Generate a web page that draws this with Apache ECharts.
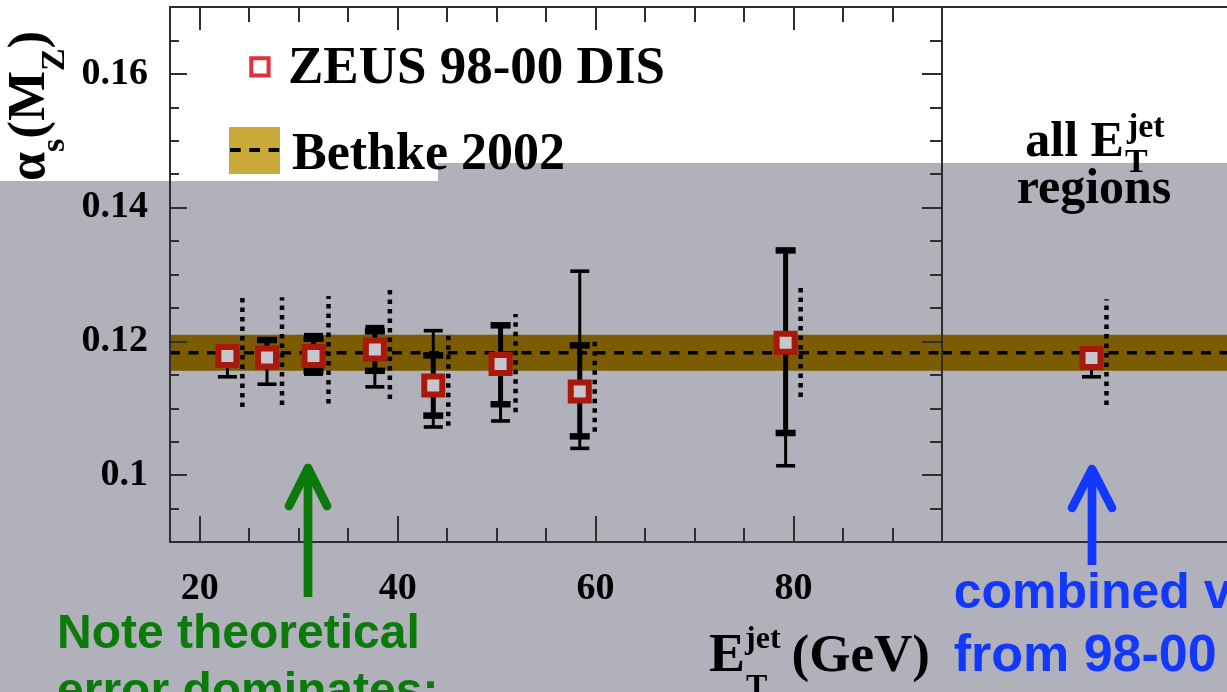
<!DOCTYPE html>
<html>
<head>
<meta charset="utf-8">
<script src="https://cdn.jsdelivr.net/npm/echarts@6/dist/echarts.min.js"></script>
<style>
  html, body { margin: 0; padding: 0; background: #fff; }
  #chart { width: 1227px; height: 692px; }
</style>
</head>
<body>
<div id="chart"></div>
<script>
// alpha_s(M_Z) extracted in bins of jet transverse energy (GeV)
const etJet   = [22.8, 26.8, 31.5, 37.7, 43.6, 50.4, 58.4, 79.2];
const alphaS  = [0.1178, 0.1176, 0.1178, 0.1188, 0.1134, 0.1166, 0.1125, 0.1198];
// inner bars: statistical uncertainty (lower / upper edge)
const statLow  = [0.1168, 0.1166, 0.1156, 0.1156, 0.1089, 0.1106, 0.1058, 0.1063];
const statHigh = [0.1188, 0.1202, 0.1204, 0.1215, 0.1179, 0.1224, 0.1194, 0.1336];
// outer bars: total experimental uncertainty
const expLow   = [0.1147, 0.1136, 0.1151, 0.1132, 0.1072, 0.1081, 0.1040, 0.1014];
const expHigh  = [0.1189, 0.1202, 0.1210, 0.1222, 0.1216, 0.1224, 0.1305, 0.1336];
// dotted bars: theoretical uncertainty
const theoLow  = [0.1102, 0.1105, 0.1107, 0.1114, 0.1074, 0.1094, 0.1065, 0.1117];
const theoHigh = [0.1268, 0.1266, 0.1268, 0.1278, 0.1210, 0.1241, 0.1201, 0.1287];

// combined value from all E_T^jet regions
const combinedPos      = [0.5];
const combinedAlphaS   = [0.1175];
const combinedStatLow  = [0.1170];
const combinedStatHigh = [0.1181];
const combinedExpLow   = [0.1147];
const combinedExpHigh  = [0.1183];
const combinedTheoLow  = [0.1105];
const combinedTheoHigh = [0.1263];

// world average band (Bethke 2002)
const bethkeCentral = 0.1183;
const bethkeError   = 0.0027;

// axis ticks
const xMajorTicks = [20, 40, 60, 80];
const xMinorTicks = [25, 30, 35, 45, 50, 55, 65, 70, 75, 85, 90];
const yMajorTicks = [0.1, 0.12, 0.14, 0.16];
const yMinorTicks = [0.095, 0.105, 0.11, 0.115, 0.125, 0.13, 0.135, 0.145, 0.15, 0.155, 0.165];

// texts
const legendZeus   = 'ZEUS 98-00 DIS';
const legendBethke = 'Bethke 2002';
const noteLines    = ['Note theoretical', 'error dominates:'];
const combinedLines = ['combined value', 'from 98-00 data'];

const SERIF = '"Liberation Serif", "Times New Roman", serif';
const SANS  = '"Liberation Sans", Arial, sans-serif';
const FRAME = '#2e2e2e';
const GRAY  = '#b0b1ba';
const BAND  = '#7b5c02';
const MARK_RED  = '#a8190c';
const MARK_FILL = '#c6c7ce';
const GREEN = '#0b7a0b';
const BLUE  = '#1238ff';

// ---- text helpers: place strings by their alphabetic baseline ----
const mctx = document.createElement('canvas').getContext('2d');
function fontOf(size, family, weight) { return weight + ' ' + size + 'px ' + family; }
function widthOf(str, size, family, weight) {
  mctx.font = fontOf(size, family || SERIF, weight || 'bold');
  return mctx.measureText(str).width;
}
function piece(str, x, baseline, size, opt) {
  opt = opt || {};
  const family = opt.family || SERIF, weight = opt.weight || 'bold';
  mctx.font = fontOf(size, family, weight);
  mctx.textBaseline = 'alphabetic';
  const m = mctx.measureText('Hg');
  const mid = (m.fontBoundingBoxAscent - m.fontBoundingBoxDescent) / 2;
  return {
    type: 'text', x: x, y: baseline - mid, z: 100, silent: true,
    style: { text: str, fontSize: size, fontFamily: family, fontWeight: weight,
             fill: opt.color || '#000', align: 'left', verticalAlign: 'middle' }
  };
}
function run(parts, x0, baseline) {
  const out = [];
  let x = x0;
  parts.forEach(function (p) {
    out.push(piece(p.t, x, baseline + (p.dy || 0), p.size, p));
    x += widthOf(p.t, p.size, p.family, p.weight) + (p.gap || 0);
  });
  return out;
}

// ---- axes ----
const tickStyle = { color: FRAME, width: 2 };
function valueAxis(cfg) {
  return {
    type: 'value', gridIndex: cfg.grid, position: cfg.position,
    min: cfg.min, max: cfg.max, z: 5, silent: true,
    splitLine: { show: false },
    axisLine: { show: !!cfg.line, onZero: false, lineStyle: { color: FRAME, width: 2 } },
    axisTick: cfg.ticks ? { show: true, inside: true, length: cfg.tickLen,
                            customValues: cfg.ticks, lineStyle: tickStyle } : { show: false },
    axisLabel: cfg.labels ? Object.assign({ show: true, customValues: cfg.labels,
                            color: '#000', fontFamily: SERIF, fontWeight: 'bold' }, cfg.labelStyle)
                          : { show: false }
  };
}

const xAxes = [
  valueAxis({ grid: 0, position: 'bottom', min: 17, max: 95, line: true, ticks: xMajorTicks, tickLen: 26,
              labels: xMajorTicks, labelStyle: { fontSize: 38, margin: 28 } }),
  valueAxis({ grid: 0, position: 'bottom', min: 17, max: 95, ticks: xMinorTicks, tickLen: 14 }),
  valueAxis({ grid: 0, position: 'top', min: 17, max: 95, line: true, ticks: xMajorTicks, tickLen: 23 }),
  valueAxis({ grid: 0, position: 'top', min: 17, max: 95, ticks: xMinorTicks, tickLen: 15 }),
  valueAxis({ grid: 1, position: 'bottom', min: 0, max: 1, line: true }),
  valueAxis({ grid: 1, position: 'top', min: 0, max: 1, line: true })
];
const yAxes = [
  valueAxis({ grid: 0, position: 'left', min: 0.09, max: 0.17, line: true, ticks: yMajorTicks, tickLen: 17,
              labels: yMajorTicks, labelStyle: { fontSize: 38, margin: 22, padding: [6, 0, 0, 0] } }),
  valueAxis({ grid: 0, position: 'left', min: 0.09, max: 0.17, ticks: yMinorTicks, tickLen: 9 }),
  valueAxis({ grid: 0, position: 'right', min: 0.09, max: 0.17, line: true, ticks: yMajorTicks, tickLen: 20 }),
  valueAxis({ grid: 0, position: 'right', min: 0.09, max: 0.17, ticks: yMinorTicks, tickLen: 12 }),
  valueAxis({ grid: 1, position: 'left', min: 0.09, max: 0.17, line: true })
];

// ---- series renderers ----
function renderBand(params, api) {
  const cs = params.coordSys;
  const x = api.value(0);
  const yLow = api.coord([x, api.value(1)])[1];
  const yHigh = api.coord([x, api.value(2)])[1];
  const yMid = api.coord([x, api.value(3)])[1];
  return {
    type: 'group',
    children: [
      { type: 'rect', shape: { x: cs.x, y: yHigh, width: cs.width, height: yLow - yHigh },
        style: { fill: BAND } },
      { type: 'line', shape: { x1: cs.x, y1: yMid, x2: cs.x + cs.width, y2: yMid },
        style: { stroke: '#000', lineWidth: 3.6, lineDash: [10, 8.5] } }
    ]
  };
}

function vbar(cx, y1, y2, lw, capW, capH) {
  const top = Math.min(y1, y2), bot = Math.max(y1, y2);
  return [
    { type: 'line', shape: { x1: cx, y1: top, x2: cx, y2: bot }, style: { stroke: '#000', lineWidth: lw } },
    { type: 'rect', shape: { x: cx - capW / 2, y: top - capH / 2, width: capW, height: capH }, style: { fill: '#000' } },
    { type: 'rect', shape: { x: cx - capW / 2, y: bot - capH / 2, width: capW, height: capH }, style: { fill: '#000' } }
  ];
}

function renderPoint(params, api) {
  const x = api.value(0);
  const c = api.coord([x, api.value(1)]);
  const y = function (i) { return api.coord([x, api.value(i)])[1]; };
  const cx = c[0];
  let children = [];
  children = children.concat(vbar(cx, y(4), y(5), 3, 19, 3.6));     // experimental
  children = children.concat(vbar(cx, y(2), y(3), 5, 20, 6.5));     // statistical
  children.push({ type: 'line', shape: { x1: cx + 15, y1: y(6), x2: cx + 15, y2: y(7) },
                  style: { stroke: '#000', lineWidth: 4.5, lineDash: [4.5, 5] } });   // theory
  children.push({ type: 'rect', shape: { x: cx - 9, y: c[1] - 9, width: 18, height: 18 },
                  style: { fill: MARK_FILL, stroke: MARK_RED, lineWidth: 6 } });
  return { type: 'group', children: children };
}

const binData = etJet.map(function (e, i) {
  return [e, alphaS[i], statLow[i], statHigh[i], expLow[i], expHigh[i], theoLow[i], theoHigh[i]];
});
const combinedData = combinedPos.map(function (p, i) {
  return [p, combinedAlphaS[i], combinedStatLow[i], combinedStatHigh[i], combinedExpLow[i],
          combinedExpHigh[i], combinedTheoLow[i], combinedTheoHigh[i]];
});
const bandData = [[0, bethkeCentral - bethkeError, bethkeCentral + bethkeError, bethkeCentral]];

// ---- overlay graphics ----
const graphics = [];
graphics.push({ type: 'polygon', z: -10, silent: true,
  shape: { points: [[0, 181], [438, 181], [438, 163], [1227, 163], [1227, 692], [0, 692]] },
  style: { fill: GRAY } });

// legend
graphics.push({ type: 'rect', z: 100, silent: true, shape: { x: 251.3, y: 58.3, width: 17.3, height: 17.3 },
  style: { fill: '#fff', stroke: '#e0303a', lineWidth: 4 } });
graphics.push(piece(legendZeus, 288, 87, 53));
graphics.push({ type: 'rect', z: 100, silent: true, shape: { x: 229, y: 127, width: 51, height: 47 },
  style: { fill: '#c9a937' } });
graphics.push({ type: 'line', z: 101, silent: true, shape: { x1: 230, y1: 150, x2: 280, y2: 150 },
  style: { stroke: '#000', lineWidth: 4, lineDash: [10.7, 8.6] } });
graphics.push(piece(legendBethke, 292, 173, 52));

// y-axis title alpha_s(M_Z), reading bottom to top
graphics.push({ type: 'group', x: 48, y: 181, rotation: Math.PI / 2, z: 100,
  children: run([
    { t: '\u03b1', size: 52 },
    { t: 's', size: 34, dy: 19 },
    { t: '(M', size: 53 },
    { t: 'Z', size: 34, dy: 19 },
    { t: ')', size: 53 }
  ], 0, 0) });

// x-axis title E_T^jet (GeV)
(function () {
  const xE = 709, base = 675;
  const wE = widthOf('E', 54);
  graphics.push(piece('E', xE, base, 54));
  graphics.push(piece('jet', xE + wE, base - 24, 32));
  graphics.push(piece('T', xE + wE + 1, base + 24, 32));
  graphics.push(piece('(GeV)', xE + wE + widthOf('jet', 32) + 11, base, 53));
})();

// label of the combined panel
(function () {
  const w1 = widthOf('all E', 50), wj = widthOf('jet', 34);
  const x0 = 1095 - (w1 + 3 + wj) / 2;
  graphics.push(piece('all E', x0, 160, 50));
  graphics.push(piece('jet', x0 + w1 + 3, 140, 34));
  graphics.push(piece('T', x0 + w1 + 1, 175, 34));
  const wr = widthOf('regions', 50);
  graphics.push(piece('regions', 1094 - wr / 2, 207, 50));
})();

// annotation arrows
function arrow(tipX, tipY, tailY, halfW, headLen, color, lw) {
  return [
    { type: 'line', z: 100, silent: true, shape: { x1: tipX, y1: tipY + 4, x2: tipX, y2: tailY },
      style: { stroke: color, lineWidth: lw } },
    { type: 'polyline', z: 100, silent: true,
      shape: { points: [[tipX - halfW, tipY + headLen], [tipX, tipY], [tipX + halfW, tipY + headLen]] },
      style: { stroke: color, lineWidth: lw, lineCap: 'round', lineJoin: 'round', fill: null } }
  ];
}
arrow(308, 468, 597, 19, 38, GREEN, 8.7).forEach(function (g) { graphics.push(g); });
arrow(1092, 469, 565, 20, 39, BLUE, 8.7).forEach(function (g) { graphics.push(g); });

graphics.push(piece(noteLines[0], 57, 651.7, 48, { family: SANS, color: GREEN }));
graphics.push(piece(noteLines[1], 57, 709.5, 48, { family: SANS, color: GREEN }));
graphics.push(piece(combinedLines[0], 953.7, 611.7, 50, { family: SANS, color: BLUE }));
graphics.push(piece(combinedLines[1], 953.7, 675, 52, { family: SANS, color: BLUE }));

const chart = echarts.init(document.getElementById('chart'), null, { renderer: 'canvas' });
chart.setOption({
  animation: false,
  backgroundColor: '#ffffff',
  grid: [
    { left: 170, top: 7, right: 285, bottom: 150, outerBoundsMode: 'none', containLabel: false },
    { left: 942, top: 7, right: -14, bottom: 150, outerBoundsMode: 'none', containLabel: false }
  ],
  xAxis: xAxes,
  yAxis: yAxes,
  series: [
    { type: 'custom', name: legendBethke, xAxisIndex: 0, yAxisIndex: 0, z: 1, silent: true, clip: false,
      renderItem: renderBand, data: bandData },
    { type: 'custom', name: legendBethke, xAxisIndex: 4, yAxisIndex: 4, z: 1, silent: true, clip: false,
      renderItem: renderBand, data: bandData },
    { type: 'custom', name: legendZeus, xAxisIndex: 0, yAxisIndex: 0, z: 3, silent: true, clip: false,
      renderItem: renderPoint, data: binData },
    { type: 'custom', name: legendZeus, xAxisIndex: 4, yAxisIndex: 4, z: 3, silent: true, clip: false,
      renderItem: renderPoint, data: combinedData }
  ],
  graphic: graphics
});
</script>
</body>
</html>
